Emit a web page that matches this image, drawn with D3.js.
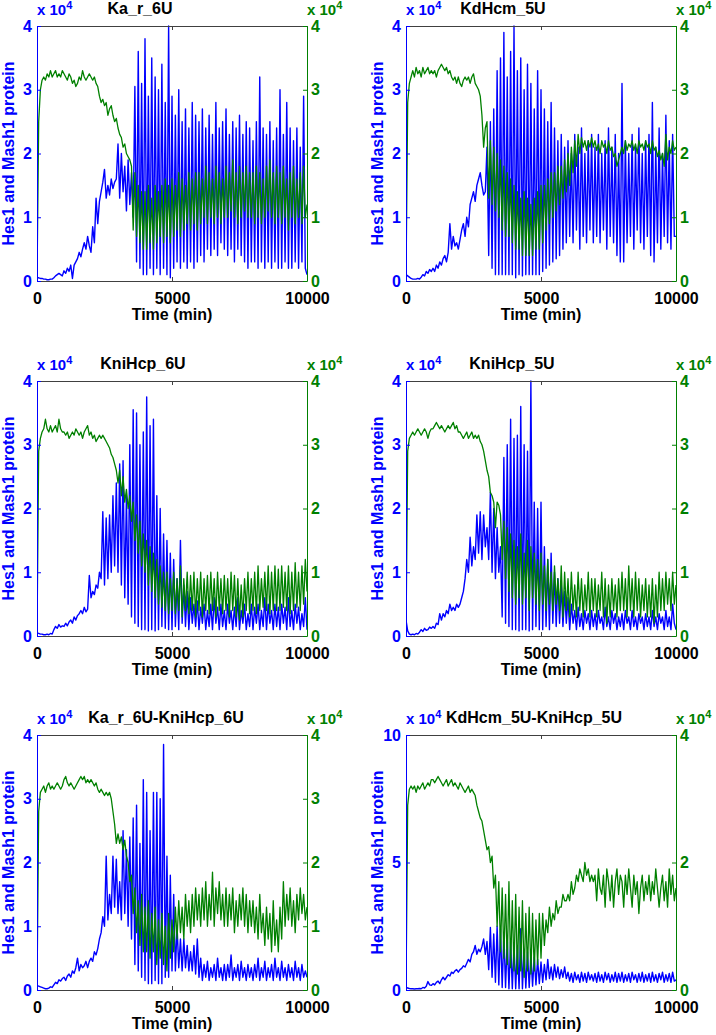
<!DOCTYPE html>
<html><head><meta charset="utf-8">
<script src="https://cdn.jsdelivr.net/npm/d3@7"></script>
<style>
body{margin:0;background:#fff}
svg{display:block}
text{font-family:"Liberation Sans",Arial,Helvetica,sans-serif;font-weight:bold}
</style>
</head><body>
<svg id="chart" width="716" height="1035"></svg>
<script>
// ---- data (protein levels in units of 10^3, sampled every 62.5 min from 0 to 10000 min) ----
const panelTitles = ["Ka_r_6U","KdHcm_5U","KniHcp_6U","KniHcp_5U","Ka_r_6U-KniHcp_6U","KdHcm_5U-KniHcp_5U"];
const xTickValues = [0,5000,10000];
const leftTickSets = [[0,1,2,3,4],[0,1,2,3,4],[0,1,2,3,4],[0,1,2,3,4],[0,1,2,3,4],[0,5,10]];
const rightTickSets = [[0,1,2,3,4],[0,1,2,3,4],[0,1,2,3,4],[0,1,2,3,4],[0,1,2,3,4],[0,2,4]];
const leftMaxes = [4,4,4,4,4,10];   // x 10^4
const rightMaxes = [4,4,4,4,4,4];   // x 10^4

const hes1_Ka_r_6U = [
0.5,0.5,0.4,0.4,0.3,0.3,0.2,0.2,0.3,0.3,0.5,0.8,1.0,1.2,1.0,0.8,
1.6,1.2,2.0,1.5,2.5,0.4,2.5,3.0,3.5,4.5,3.8,5.0,6.0,5.0,7.0,5.5,
4.5,8.5,6.0,13.0,9.0,12.5,14.0,15.5,17.5,13.0,15.0,13.5,16.0,14.5,15.5,16.0,
21.5,13,20,14,18,11,19,12,17,10,30.5,3,36,2,31,1,
38,1,29,2,35,1,32,2,30,1,34,2,28,1,40,0.5,
29,2,26,3,30,2,25,3,27,2,24,3,28,2,26,3,
25,4,27,3,24,5,26,4,23,5,28,4,24,6,25,5,
27,4,23,5,25,3,24,5,26,4,23,3,25,2,24,3,
22,3,25,2,32,3,24,2,23,3,25,2,22,3,24,2,
30,2,23,3,28,2,24,2,22,3,24,2,21,3,29,2,
1];
const mash1_Ka_r_6U = [
0,25,30,31.5,32,31.5,32.5,32,33,32,32.5,33,32,32.5,32,33,
32.5,32,31.5,32.5,32,31,31.5,30.5,31,32,31.5,33,32,31.5,32,32.5,
32,31.5,32,31,30.5,29,28,28.5,27.5,28,26,27,27.5,26,25,25.5,
24,23,22.5,21,21.5,20,19.5,19,18,8,17,7,15,6,14,5,
14,5,15,6,13,5,15,6,14,7,15,6,16,7,15,6,
16,7,15,8,17,7,16,8,15,9,17,8,16,9,17,8,
17,9,16,10,18,9,17,10,16,9,18,10,17,9,16,10,
18,10,17,11,19,10,17,9,18,10,17,11,18,10,17,10,
17,9,18,10,17,9,16,10,18,11,19,10,17,9,18,10,
17,9,18,10,16,8,17,10,18,9,16,10,17,9,18,10,
12];

const hes1_KdHcm_5U = [
1.0,0.8,0.6,0.4,0.3,0.3,0.3,0.4,0.3,0.6,1.0,0.8,1.5,1.2,1.8,1.5,
2.0,1.5,2.5,2.0,3.0,2.5,3.5,4.0,3.0,4.5,9.0,5.0,7.0,5.5,6.0,5.0,
6.5,8.0,9.0,7.0,10.0,8.5,12.0,13.0,14.0,12.5,15.0,16.0,17.0,15.0,13.5,14.0,
21,4,25,2,27,1,33,1,35,1,39,1,32,1,36,1,
40,0.5,33,1,35,0.8,30,1,34,1,31,1,27,1,33,1,
30,1.5,27,2,25,2.5,28,3,24,3.5,22,4,23,5,21,6,
22,7,20,6,23,8,21,5,24,7,20,6,22,8,23,6,
21,7,23,6,20,8,22,5,24,7,21,6,23,4,20,3,
31,3,22,6,20,7,23,5,21,8,24,6,20,5,22,7,
23,4,28,3,21,6,24,5,20,7,26,6,22,5,23,7,
7];
const mash1_KdHcm_5U = [
0,28,31,32,33,32,33.5,32.5,33,32,33.5,32.5,33,33.5,32.5,33,
32.5,33,32,33,33.5,34,33.5,33,33.5,32.5,33,32,31.5,32,31,32,
31,30.5,31.5,32,31.5,32,31,32,32.5,31,30.5,30,29,26,21,24,
25,13,22,12,21,11,20,10,19,8,18,7,17,7,16,6,
15,5,14,5,13,4,14,4,13,4,12,4,13,5,14,5,
15,6,15,8,16,9,17,10,17,11,18,12,18,13,19,14,
20,15,21,17,22,18,23,20,22.5,21,22,20.5,22,21,22.5,21,
22,20.5,21.5,20,22,21,21.5,20,22,20.5,21,19.5,20,18,19,20,
21,20,22,20.5,21.5,21,22,20.5,21.5,20,22,21,21.5,20.5,22,21,
21.5,20,22,20.5,21,19.5,20.5,19,20,18,23,19,21,20,22,20.5,
21];

const hes1_KniHcp_6U = [
0.5,0.4,0.3,0.3,0.2,0.2,0.3,0.2,0.4,0.3,1.0,1.5,1.2,1.8,1.4,1.6,
1.5,2.0,1.6,2.2,2.5,2.0,3.0,2.5,3.2,3.5,4.0,3.5,4.5,3.8,4.2,9.5,
6.0,7.0,6.5,8.0,7.5,10.0,9.0,19.5,8.0,18.5,9.0,19.0,10.0,22,11,24,
10,27,8,27.5,6,22,5,30,3,35.5,2,35,1.5,30,1,32,
1,37.5,0.8,33,1,34,0.8,22,1,20,1.5,16,1.2,15,1,13,
1,12,1.5,9,1,15,2,8,1.5,7,1,6,2,5,1.5,5.5,
1,4.5,2,5,1,4,1.5,5,1,6,2,4.5,1,5,1.5,4,
1,5,2,4,1,4.5,1.5,6,1,4,2,5,1,3.5,1.5,5,
1,4.5,2,5,1,4,1.5,6,1,5,2,4,1,5,1.5,4.5,
1,5,2,4.5,1,6,1.5,4,1,5,2,4.5,1,3.5,1.5,6,
1];
const mash1_KniHcp_6U = [
0,29,31,32,32.5,34,32.5,32,33,32,32.5,33,32,34,32.5,32,
32,31.5,32,31,31.5,32,31.5,32.5,32,31.5,32,31,32,32.5,33,31.5,
32,31,31.5,30.5,31,31.5,31,31.5,31,30.5,30,29.5,28.5,28,27,26,
24,26,22,25,21,23,20,22,18,21,15,19,13,18,11,16,
10,15,8,14,7,13,6,12,5,11,4.5,10,4,10,3.5,9,
4,10,3.5,9,4,11,3,9,4,10,3.5,9.5,4,10,3,9,
4,10,3,9,4,9.5,3.5,10,4,9,3,10,4,9,3.5,9.5,
4,9,3,10,4,9.5,3,9,2.5,8,3,9,4,10,3.5,9,
4,10,3.5,11,4,9,4.5,10,4,11,3.5,10,4,11,4,10.5,
4,11,4.5,10,4,11,3.5,10,4,11.5,4.5,10,4,11,5,12,
7];

const hes1_KniHcp_5U = [
2.5,0.8,0.3,0.2,0.3,0.2,0.4,0.3,0.6,1.0,0.7,1.2,0.9,1.0,1.4,1.2,
1.5,1.2,2.0,1.8,3.5,2.5,3.5,3.0,4.0,3.5,5.0,4.0,4.5,4.0,5.0,4.5,
5.0,6.0,7.0,9.0,12.0,10.0,15.5,11,14,12,19,13,19.5,12,19,14,
17,12,22.5,10,20,9,17,10,14,3,28,2,30,1.5,34,1,
31,1,31.5,0.8,36,1,30,1,29,0.8,40,1,21,1.5,20,1,
21,1,14,1.5,12,1,13,2,10,1.5,9,2,8,1.5,7,2,
6,1,5,2,4,1,4.5,1.5,3.5,1,4,2,3.5,1,4,1.5,
3.5,1,4,2,3,1,4.5,1.5,3,1,4,2,3.5,1,3,1.5,
3.5,1,4,2,3,1,4,1.5,3,1,3.5,2,3,1,3.5,1.5,
3,1,4,1.5,3,1,3.5,2,3,1,4,1.5,3,1,5,2,
1];
const mash1_KniHcp_5U = [
0,29,31,31.5,32,31.5,32,32.5,32,31.5,32,32.5,32,31,32,32.5,
32.5,33,33.5,33,32.5,33,32.5,32,32.5,33,32.5,33,33.5,32.5,33,32,
32,31.5,31,31.5,32,31,31.5,32,31,31.5,31,31.5,30.5,30,29,27.5,
26,25,22.5,22,21,17,21,20.5,19,12,18,9,17,7,16,6,
15,5,14,6,16,5,13,6,15,4,14,6,13,5,12,4,
13,5,11,4,12,5,10,4,11,5,9,4,11,3,10,4,
9,3,10,4,8,3,10,4,9,3,8,4,10,3,9,4,
9,3,8,4,10,3,9,2,8,3,9,4,8,3,9,4,
10,4,9,3,11,4,9,3,10,4,9,3,8,4,9,3,
8,3,9,2,8,3,10,4,9,4,10,5,9,4,10,5,
8];

const hes1_Ka_r_6U_KniHcp_6U = [
0.7,0.6,0.5,0.4,0.3,0.2,0.2,0.3,0.5,0.4,0.8,1.2,1.0,1.6,1.4,1.8,
2.0,1.5,2.2,2.5,2.0,3.0,2.6,3.5,5.0,3.0,4.0,3.5,3.8,4.5,3.5,4.5,
5.0,4.5,6.0,5.5,6.5,8.0,9.0,11.5,10.0,21.0,11.0,15,12,21,13,20.5,
12,17,11,25,12,22,10,24,8,27,4,29,3,23,2,33,
1.5,31,1,25,1,31,1.5,31,1,30,1,38.5,2,21,2,18,
3,15,3,10,3.5,8,3,8,3.5,7,3,6,3,7,2.5,8,
2,5,1.5,4,2,4.5,1.5,3.5,2,4,1.5,5,2,3.5,1.5,4,
1.5,4,2,5.5,1.5,3.5,2,4,1.5,4.5,2,3.5,1.5,4,2,3.5,
1.5,4,2,5,1.5,3.5,2,4.5,1.5,3.5,2,4,1.5,5,2,3.5,
1.5,4.5,2,3.5,1.5,4,2,3.5,1.5,4.5,2,3.5,1.5,4,2,3,
2];
const mash1_Ka_r_6U_KniHcp_6U = [
0,28,31,31.5,32,31,32,32.5,31.5,32,31.5,32,32.5,32,31.5,32,
33,33.5,32.5,32,32.5,32,31.5,32,32.5,33,33.5,33,33.5,32.5,33,32.5,
33,32.5,32,32.5,31.5,31,31.5,31,30.5,31,30.5,31,30,28,26,23,
24.5,23,24,22,23.5,21,20,17,18,12,16,9,14,7,15,6,
13,6,14,5,12,6,13,4,11,5,12,4,10,3,12,5,
11,6,13,8,14,9,13,8,15,10,14,9,15,10,16,11,
15,10,16,11,17,10,15,11,18.5,10,16,12,17,11,15,10,
16,10,15,11,16,9,14,10,15,11,16,10,15,9,14,10,
14,9,13,8,15,9,12,7,13,8,12,6,14,7,11,6,
13,8,17,10,15,11,16,10,14,9,15,11,16,12,15,11,
13];

const hes1_KdHcm_5U_KniHcp_5U = [
1.0,0.8,0.6,0.5,0.5,0.4,0.5,0.5,0.6,0.5,1.0,0.8,1.5,3.3,2.0,1.8,
2.5,2.0,3.0,3.5,2.5,4.0,5.0,4.0,5.0,6.0,5.5,7.0,6.5,7.5,8.0,7.0,
8.0,8.5,9.5,9.0,10.5,12.0,11.0,14.0,15.0,17.5,14.0,16.0,15.0,17.0,20.0,14.0,
19,8,24.5,5,22,3,25,2,24,1,22,1,20,0.5,19,0.5,
18,0.5,17,0.5,24,0.5,16,0.8,15,1,14,1.5,13,2,12,2.5,
11,3,10,4,12,4.5,9,4,10,5,9,4.5,8,5,9,4.5,
7,3.5,6.5,3,7,4,6,3,7,3.5,6.5,3,7,4,6,3.5,
6.5,3,7,3.5,6,3,7,4,6.5,3,6,3.5,7,3,6.5,3.5,
7,3,6,3.5,6.5,3,7,4,6,3,6.5,3.5,7,3,6,3.5,
6.5,3,7,3.5,6,3,6.5,4,7,3,6,3.5,6.5,3,7,3.5,
4];
const mash1_KdHcm_5U_KniHcp_5U = [
0,29,31.5,32,31.5,32,31,32,31.5,32,32.5,31.5,32,32.5,32,33,
33,32.5,33,33.5,33,32.5,32,32.5,33,32,32.5,33,32,32.5,32,31.5,
32.5,32,31.5,31,31.5,32,31,31.5,31,30.5,29,28,27,26.5,25,23.5,
22,22.5,20,21,16,18,10,17,6,16,5,15,4,17,3.5,14,
3,15,2.5,13,3,14,2,12,3,13,2.5,12,3,11,4,12,
5,12,7,11,9,13,10,12,11,14,12,13,13,15,14,14,
15,14,17,15,16,18,17,19,18,17,20,18,19,17,18,17,
18,14,19,16,15,18,13,19,17,14,18,13,17,19,15,18,
17,13,18,15,19,16,13,18,15,17,12,16,18,14,17,15,
18,14,17,15,19,16,13,16,18,14,17,13,19,15,18,14,
16];

const hes1Series = [hes1_Ka_r_6U, hes1_KdHcm_5U, hes1_KniHcp_6U, hes1_KniHcp_5U, hes1_Ka_r_6U_KniHcp_6U, hes1_KdHcm_5U_KniHcp_5U];
const mash1Series = [mash1_Ka_r_6U, mash1_KdHcm_5U, mash1_KniHcp_6U, mash1_KniHcp_5U, mash1_Ka_r_6U_KniHcp_6U, mash1_KdHcm_5U_KniHcp_5U];

// ---- layout ----
const colX = [37, 406], rowY = [26, 381, 735], W = 270, H = 255;
const titleCenters = [140, 503, 143, 512, 166, 534];
const BLUE = "#0000ff", GREEN = "#008000", FRAME = "#404040";

const svg = d3.select("#chart");
svg.append("rect").attr("width",716).attr("height",1035).attr("fill","#fff");

panelTitles.forEach((title, i) => {
  const x0 = colX[i % 2], y0 = rowY[Math.floor(i / 2)];
  const g = svg.append("g").attr("transform", `translate(${x0},${y0})`);
  const x = d3.scaleLinear().domain([0, 10000]).range([0, W]);
  const yL = d3.scaleLinear().domain([0, leftMaxes[i] * 1e4]).range([H, 0]);
  const yR = d3.scaleLinear().domain([0, rightMaxes[i] * 1e4]).range([H, 0]);

  const clipId = "clip" + i;
  g.append("clipPath").attr("id", clipId).append("rect")
    .attr("x", 0).attr("y", -1).attr("width", W).attr("height", H + 2);

  const tOf = (arr) => (d, j) => x(j * 10000 / (arr.length - 1));
  const blue = hes1Series[i], green = mash1Series[i];
  g.append("path").datum(blue)
    .attr("clip-path", `url(#${clipId})`)
    .attr("fill", "none").attr("stroke", BLUE).attr("stroke-width", 1.4)
    .attr("stroke-linejoin", "round")
    .attr("d", d3.line().x(tOf(blue)).y(d => yL(d * 1000)));
  g.append("path").datum(green)
    .attr("clip-path", `url(#${clipId})`)
    .attr("fill", "none").attr("stroke", GREEN).attr("stroke-width", 1.3)
    .attr("stroke-linejoin", "round")
    .attr("d", d3.line().x(tOf(green)).y(d => yR(d * 1000)));

  // bottom axis
  const ax = g.append("g").attr("transform", `translate(0,${H})`)
    .call(d3.axisBottom(x).tickValues(xTickValues).tickSizeInner(-4).tickSizeOuter(0)
      .tickPadding(12).tickFormat(d3.format("d")));
  ax.select(".domain").attr("stroke", FRAME);
  ax.selectAll(".tick line").attr("stroke", FRAME);
  ax.selectAll("text").attr("fill", "#000").style("font-size", "16px");

  // top axis (no labels)
  const at = g.append("g")
    .call(d3.axisTop(x).tickValues(xTickValues).tickSizeInner(-4).tickSizeOuter(0).tickFormat(""));
  at.select(".domain").attr("stroke", FRAME);
  at.selectAll(".tick line").attr("stroke", FRAME);

  // left axis
  const al = g.append("g")
    .call(d3.axisLeft(yL).tickValues(leftTickSets[i].map(v => v * 1e4))
      .tickSizeInner(-4).tickSizeOuter(0).tickPadding(5).tickFormat(d => d / 1e4));
  al.select(".domain").attr("stroke", BLUE);
  al.selectAll(".tick line").attr("stroke", BLUE);
  al.selectAll("text").attr("fill", BLUE).style("font-size", "16px");

  // right axis
  const ar = g.append("g").attr("transform", `translate(${W},0)`)
    .call(d3.axisRight(yR).tickValues(rightTickSets[i].map(v => v * 1e4))
      .tickSizeInner(-4).tickSizeOuter(0).tickPadding(4).tickFormat(d => d / 1e4));
  ar.select(".domain").attr("stroke", GREEN);
  ar.selectAll(".tick line").attr("stroke", GREEN);
  ar.selectAll("text").attr("fill", GREEN).style("font-size", "16px");

  // exponent labels
  [[0, BLUE], [W, GREEN]].forEach(([ex, col]) => {
    const t = g.append("text").attr("x", ex).attr("y", -11).attr("fill", col).style("font-size", "15px");
    t.append("tspan").text("x 10");
    t.append("tspan").attr("dy", -6).style("font-size", "11px").text("4");
  });

  // title
  g.append("text").attr("x", titleCenters[i] - x0).attr("y", -12)
    .attr("text-anchor", "middle").attr("fill", "#000").style("font-size", "16px").text(title);

  // axis labels
  g.append("text").attr("x", W / 2).attr("y", H + 39).attr("text-anchor", "middle")
    .attr("fill", "#000").style("font-size", "16px").text("Time (min)");
  g.append("text").attr("transform", `translate(-23,${H / 2}) rotate(-90)`)
    .attr("text-anchor", "middle").attr("fill", BLUE).style("font-size", "16px")
    .text("Hes1 and Mash1 protein");
});
</script>
</body></html>
